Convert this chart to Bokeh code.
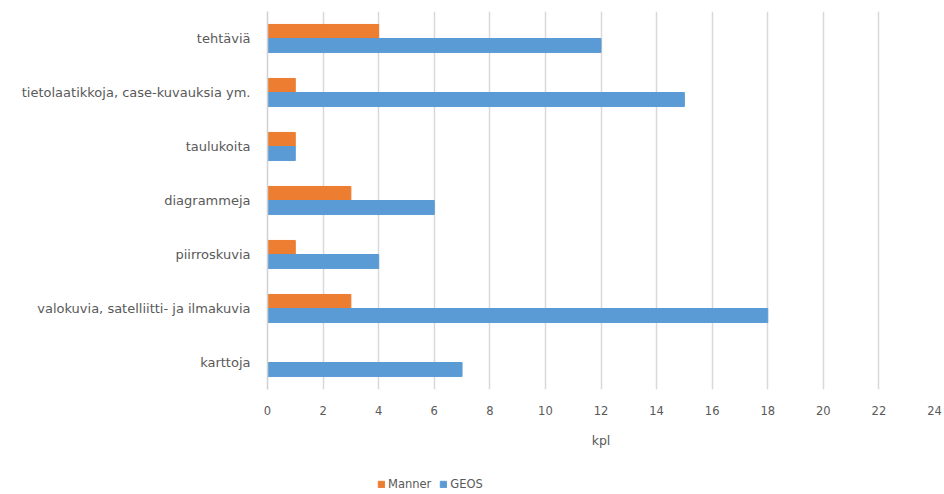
from bokeh.plotting import figure
from bokeh.layouts import column
from bokeh.models import ColumnDataSource, FactorRange, Legend, LegendItem, FixedTicker
from bokeh.transform import dodge
from bokeh.embed import file_html
from bokeh.resources import INLINE

categories = ["karttoja", "valokuvia, satelliitti- ja ilmakuvia", "piirroskuvia",
              "diagrammeja", "taulukoita", "tietolaatikkoja, case-kuvauksia ym.", "tehtäviä"]
manner = [0, 3, 1, 3, 1, 1, 4]
geos = [7, 18, 4, 6, 1, 15, 12]
x_ticks = list(range(0, 25, 2))

FONT = "DejaVu Sans"
TXT = "#595959"
C_MANNER = "#ED7D31"
C_GEOS = "#5B9BD5"

src = ColumnDataSource(dict(cat=categories, manner=manner, geos=geos))

p = figure(width=944, height=470, output_backend="svg", toolbar_location=None,
           y_range=FactorRange(factors=categories, range_padding=0),
           x_range=(0, 24),
           min_border_left=267, min_border_right=10, min_border_top=11, min_border_bottom=81)
p.outline_line_color = None

r1 = p.hbar(y=dodge("cat", 0.13, range=p.y_range), right="manner", left=0, height=0.26,
            source=src, color=C_MANNER)
r2 = p.hbar(y=dodge("cat", -0.13, range=p.y_range), right="geos", left=0, height=0.26,
            source=src, color=C_GEOS)

p.xaxis.ticker = FixedTicker(ticks=x_ticks)
p.xaxis.axis_line_color = None
p.xaxis.major_tick_line_color = None
p.xaxis.minor_tick_line_color = None
p.xaxis.major_label_standoff = 10
p.xaxis.major_label_text_font = FONT
p.xaxis.major_label_text_font_size = "11.5px"
p.xaxis.major_label_text_color = TXT
p.xaxis.axis_label = "kpl"
p.xaxis.axis_label_text_font = FONT
p.xaxis.axis_label_text_font_size = "12.5px"
p.xaxis.axis_label_text_font_style = "normal"
p.xaxis.axis_label_text_color = TXT
p.xaxis.axis_label_standoff = 15

p.yaxis.axis_line_color = "#d0d0d0"
p.yaxis.axis_line_width = 1.5
p.yaxis.major_tick_line_color = None
p.yaxis.minor_tick_line_color = None
p.yaxis.major_label_standoff = 11
p.yaxis.major_label_text_font = FONT
p.yaxis.major_label_text_font_size = "13px"
p.yaxis.major_label_text_color = TXT

p.ygrid.grid_line_color = None
p.xgrid.grid_line_color = "#d9d9d9"
p.xgrid.grid_line_width = 1.5

# legend strip below the chart
lg = figure(width=944, height=24, output_backend="svg", toolbar_location=None,
            y_range=FactorRange(factors=categories), x_range=(0, 24),
            x_axis_location=None, y_axis_location=None,
            min_border_left=0, min_border_right=0, min_border_top=0, min_border_bottom=0)
lg.outline_line_color = None
lg.grid.visible = False
l1 = lg.hbar(y="cat", right="manner", left=0, height=0.26, source=src, color=C_MANNER, visible=False)
l2 = lg.hbar(y="cat", right="geos", left=0, height=0.26, source=src, color=C_GEOS, visible=False)

legend = Legend(items=[LegendItem(label="Manner", renderers=[l1]),
                       LegendItem(label="GEOS", renderers=[l2])],
                orientation="horizontal", location=(110, 3),
                border_line_color=None, background_fill_alpha=0,
                label_text_font=FONT, label_text_font_size="11.5px", label_text_color=TXT,
                glyph_width=8, glyph_height=8, spacing=8, label_standoff=3,
                padding=0, margin=0)
lg.add_layout(legend)

layout = column(p, lg, spacing=0)
open("out.html", "w").write(file_html(layout, INLINE))
